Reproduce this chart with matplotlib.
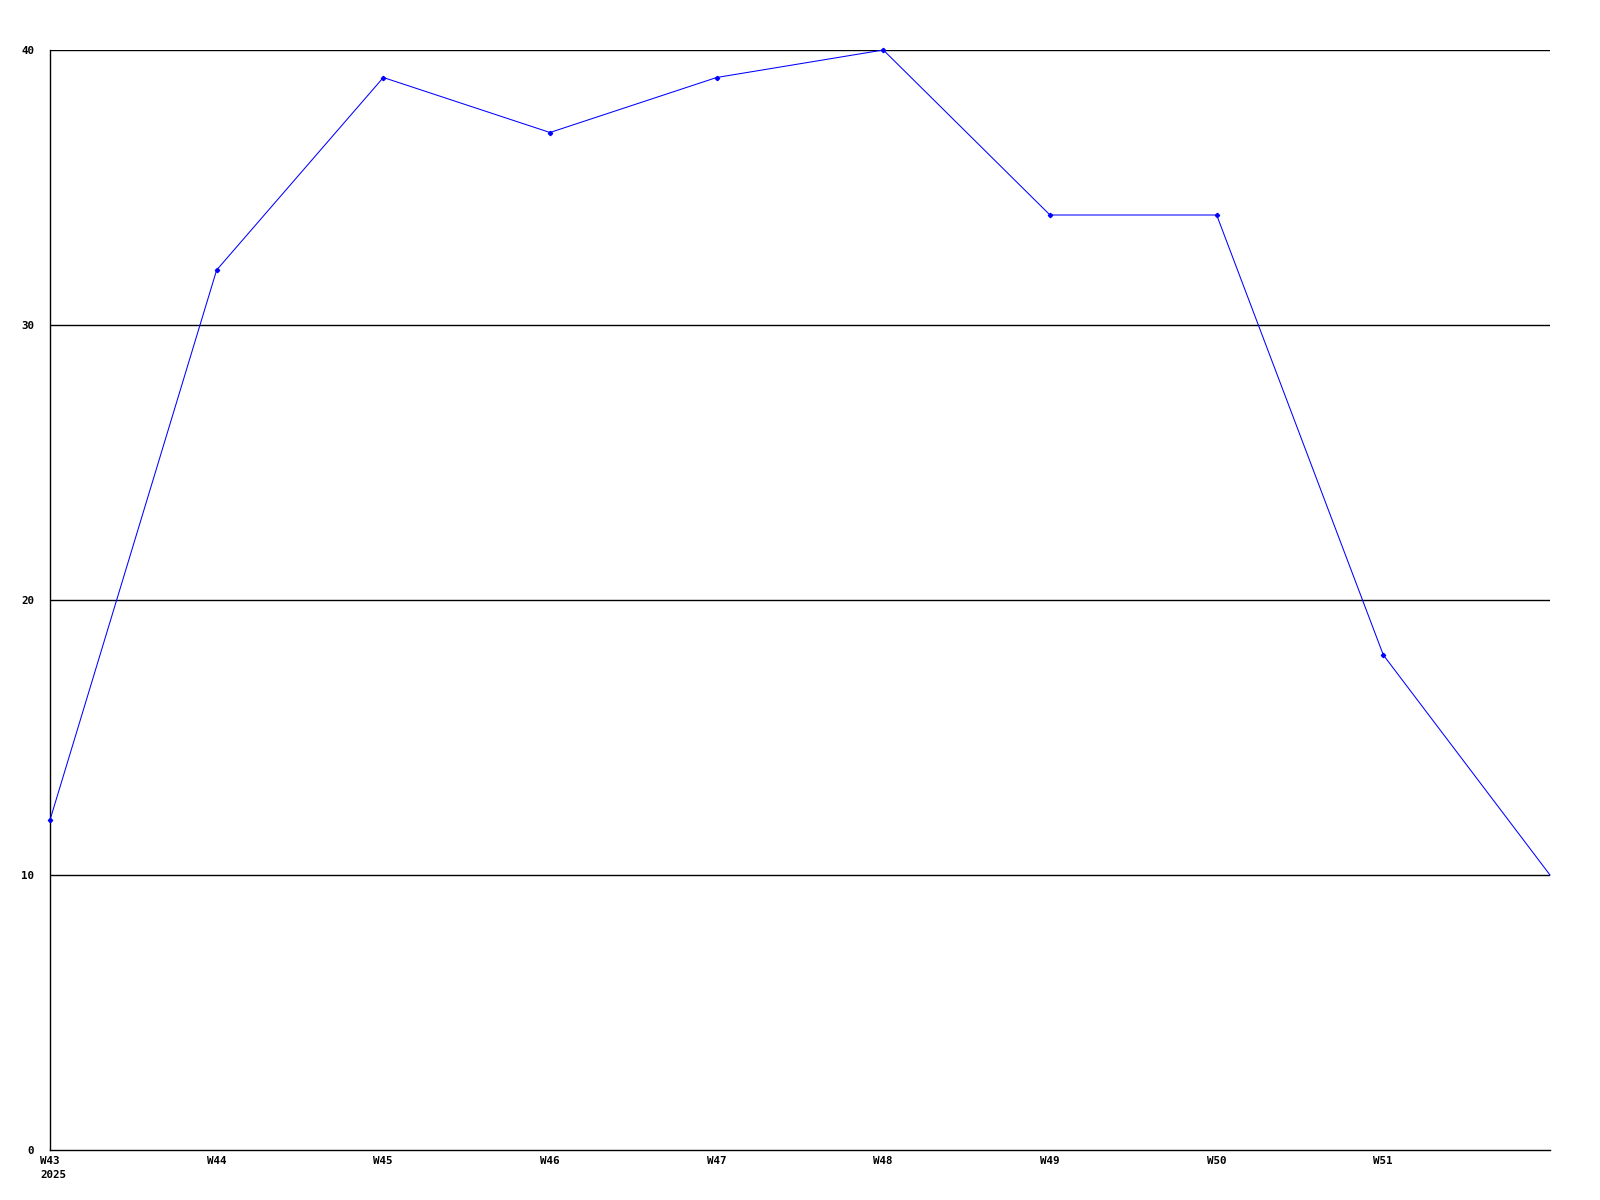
import matplotlib
matplotlib.use("Agg")
import matplotlib.pyplot as plt
import matplotlib.transforms as mtransforms

# weekly values, the last point has no tick label
weeks = ["W43\n2025", "W44", "W45", "W46", "W47", "W48", "W49", "W50", "W51", ""]
values = [12, 32, 39, 37, 39, 40, 34, 34, 18, 10]
y_ticks = [0, 10, 20, 30, 40]

fig = plt.figure(figsize=(16, 12), dpi=100)
ax = fig.add_axes([50 / 1600, 50 / 1200, 1500 / 1600, 1100 / 1200])

x = list(range(len(values)))
ax.plot(x, values, color="#0000ff", linewidth=0.75, zorder=3, clip_on=False)
# markers on every point except the last one
ax.plot(x[:-1], values[:-1], linestyle="none", color="#0000ff", marker="D",
        markersize=2.2, clip_on=False, zorder=4)

ax.set_xlim(0, len(values) - 1)
ax.set_ylim(0, 40)

for yv in y_ticks[1:]:
    ax.axhline(yv, color="black", linewidth=1.0, zorder=1)

ax.spines["top"].set_visible(False)
ax.spines["right"].set_visible(False)
ax.spines["left"].set_linewidth(1.0)
ax.spines["bottom"].set_linewidth(1.0)

font = dict(family="DejaVu Sans Mono", weight="bold", size=7.8)

ax.set_yticks(y_ticks)
ax.set_yticklabels([str(v) for v in y_ticks], **font)
ax.tick_params(axis="y", length=0, pad=11.5)

ax.set_xticks(x[:-1])
ax.set_xticklabels(weeks[:-1], **font)
ax.tick_params(axis="x", length=0, pad=4)
shift = mtransforms.ScaledTranslation(-10 / 100, 0, fig.dpi_scale_trans)
for lbl in ax.get_xticklabels():
    lbl.set_horizontalalignment("left")
    lbl.set_multialignment("left")
    lbl.set_linespacing(1.5)
    lbl.set_transform(lbl.get_transform() + shift)

fig.savefig("out.png", dpi=100)
